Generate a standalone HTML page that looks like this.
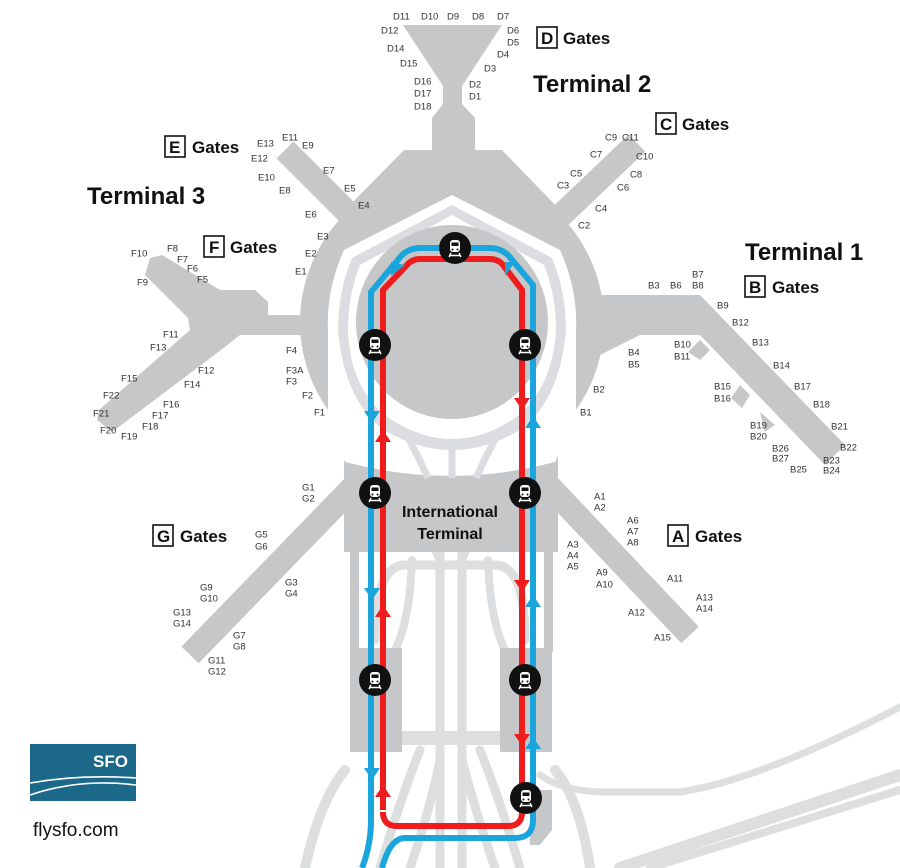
<!DOCTYPE html>
<html><head><meta charset="utf-8"><style>
html,body{margin:0;padding:0;background:#fff;}
svg{display:block;}
.g{font-family:"Liberation Sans",sans-serif;font-size:9.5px;fill:#333;}
.h{font-family:"Liberation Sans",sans-serif;font-weight:bold;fill:#111;}
</style></head><body>
<svg width="900" height="868" viewBox="0 0 900 868" xmlns="http://www.w3.org/2000/svg">
<defs>
<g id="st">
<circle r="16" fill="#111"/>
<rect x="-5" y="-8" width="10" height="12" rx="3" fill="#fff"/>
<rect x="-3.5" y="-5.5" width="7" height="3.5" fill="#111"/>
<circle cx="-2.5" cy="1.5" r="1" fill="#111"/><circle cx="2.5" cy="1.5" r="1" fill="#111"/>
<path d="M-4 5 L-6 9 M4 5 L6 9 M-5 7.5 H5" stroke="#fff" stroke-width="1.4" fill="none"/>
</g>
</defs>
<!-- light roads -->
<g fill="none" stroke="#dddee0" stroke-linecap="round">
<path d="M440 470 V868 M462 470 V868" stroke-width="9"/>
<path d="M405 470 Q420 520 440 560 M495 470 Q480 520 462 560" stroke-width="8"/>
<path d="M375 640 Q375 565 405 565 H495 Q525 565 525 640" stroke-width="9"/>
<path d="M395 650 Q410 620 412 560 M505 650 Q490 620 488 560" stroke-width="8"/>
<path d="M400 738 H500" stroke-width="14"/>
<path d="M420 750 Q400 800 380 868 M440 760 Q430 810 410 868 M462 760 Q475 810 495 868 M480 750 Q500 800 520 868" stroke-width="9"/>
<path d="M345 770 Q320 800 305 868 M555 770 Q580 800 590 868" stroke-width="10"/>
<path d="M540 775 Q560 790 600 792 L680 792 Q760 780 900 707" stroke-width="7"/>
<path d="M620 868 L900 775" stroke-width="12"/>
<path d="M650 868 L900 790" stroke-width="8"/>
</g>
<!-- main gray -->
<g fill="#c6c7c9">
<path d="M403 25 H502 L462 86 V104 L475 118 V150 H432 V118 L443 104 V86 Z"/>
<path d="M404 150 H502 L560 210 L545 240 H360 L345 210 Z"/>
<line x1="285" y1="150" x2="375" y2="240" stroke="#c6c7c9" stroke-width="24"/>
<line x1="637" y1="143" x2="530" y2="245" stroke="#c6c7c9" stroke-width="24"/>
<circle cx="452" cy="322" r="152"/>
<!-- F pier -->
<path d="M150 258 L162 255 L220 290 H255 L268 302 V315 H310 V335 L240 335 L225 347 L112 432 L97 420 L99 410 L190 330 L188 318 L145 275 Z"/>
<!-- B pier -->
<path d="M590 295 H700 L845 445 L825 465 L700 335 H640 L590 360 Z"/>
<path d="M700 340 L710 350 L700 360 L688 352 Z"/>
<path d="M740 385 L750 395 L742 408 L731 398 Z"/>
<path d="M760 412 L775 425 L765 432 Z"/>
<!-- G pier -->
<line x1="355" y1="485" x2="190" y2="655" stroke="#c6c7c9" stroke-width="24"/>
<!-- A pier -->
<line x1="548" y1="485" x2="690" y2="635" stroke="#c6c7c9" stroke-width="24"/>
<!-- intl -->
<rect x="344" y="440" width="214" height="112"/>
<rect x="350" y="552" width="9" height="100"/>
<rect x="544" y="552" width="9" height="100"/>
<rect x="350" y="648" width="52" height="104"/>
<rect x="500" y="648" width="52" height="104"/>
<path d="M530 790 H552 V830 L540 845 H530 Z"/>
</g>
<!-- inner white area of hub -->
<path d="M452 195 L560 250 Q578 290 576 330 L576 420 Q558 455 555 462 Q450 490 345 462 Q342 455 328 420 L328 330 Q326 290 344 250 Z" fill="#fff"/>
<path d="M452 205 L552 258 Q566 292 566 330 Q560 400 520 430 Q452 470 384 430 Q344 400 338 330 Q338 292 352 258 Z" fill="#dcdde0"/>
<path d="M452 215 L544 265 Q556 295 556 330 Q552 392 512 420 Q452 458 392 420 Q350 392 348 330 Q348 295 360 265 Z" fill="#fff"/>
<ellipse cx="452" cy="322" rx="96" ry="97" fill="#c6c7c9"/>
<path d="M345 462 Q450 490 555 462 V552 H345 Z" fill="#c6c7c9"/>
<g fill="none" stroke="#dcdde0" stroke-width="7">
<path d="M405 432 Q420 460 428 478 M499 432 Q484 460 476 478 M452 440 V478"/>
</g>
<!-- train lines -->
<g fill="none" stroke-linejoin="round" stroke-linecap="butt">
<path d="M362 868 Q371 845 371 820 V292 L402 255 Q410 248 420 248 H490 Q500 248 508 255 L533 285 V820 Q533 838 515 838 H405 Q390 838 382 868" stroke="#1aa6dc" stroke-width="6"/>
<path d="M383 810 V290 L407 265 Q412 259 420 259 H490 Q498 259 503 265 L522 290 V812 Q522 826 508 826 H397 Q383 826 383 812" stroke="#ee1c1c" stroke-width="6"/>
</g>
<!-- arrows -->
<g fill="#1aa6dc">
<path d="M364 411 H380 L372 423 Z"/><path d="M364 588 H380 L372 600 Z"/><path d="M364 768 H380 L372 780 Z"/>
<path d="M525 428 H541 L533 416 Z"/><path d="M525 607 H541 L533 595 Z"/><path d="M525 749 H541 L533 737 Z"/>
<path d="M391 276 L405 265 L391 262 Z"/><path d="M515 262 L505 276 L505 262 Z"/>
</g>
<g fill="#ee1c1c">
<path d="M375 442 H391 L383 430 Z"/><path d="M375 617 H391 L383 605 Z"/><path d="M375 797 H391 L383 785 Z"/>
<path d="M514 398 H530 L522 410 Z"/><path d="M514 580 H530 L522 592 Z"/><path d="M514 734 H530 L522 746 Z"/>
</g>
<!-- stations -->
<use href="#st" x="455" y="248"/><use href="#st" x="375" y="345"/><use href="#st" x="525" y="345"/>
<use href="#st" x="375" y="493"/><use href="#st" x="525" y="493"/><use href="#st" x="375" y="680"/>
<use href="#st" x="525" y="680"/><use href="#st" x="526" y="798"/>
<!-- headings -->
<g class="h">
<text x="533" y="92" font-size="24">Terminal 2</text>
<text x="745" y="260" font-size="24">Terminal 1</text>
<text x="87" y="204" font-size="24">Terminal 3</text>
<text x="450" y="517" font-size="16" text-anchor="middle">International</text>
<text x="450" y="539" font-size="16" text-anchor="middle">Terminal</text>
</g>
<g class="h" font-size="17">
<rect x="537" y="27" width="20" height="21" fill="none" stroke="#111" stroke-width="1.6"/><text x="541" y="44">D</text><text x="563" y="44">Gates</text>
<rect x="656" y="113" width="20" height="21" fill="none" stroke="#111" stroke-width="1.6"/><text x="660" y="130">C</text><text x="682" y="130">Gates</text>
<rect x="745" y="276" width="20" height="21" fill="none" stroke="#111" stroke-width="1.6"/><text x="749" y="293">B</text><text x="772" y="293">Gates</text>
<rect x="165" y="136" width="20" height="21" fill="none" stroke="#111" stroke-width="1.6"/><text x="169" y="153">E</text><text x="192" y="153">Gates</text>
<rect x="204" y="236" width="20" height="21" fill="none" stroke="#111" stroke-width="1.6"/><text x="209" y="253">F</text><text x="230" y="253">Gates</text>
<rect x="153" y="525" width="20" height="21" fill="none" stroke="#111" stroke-width="1.6"/><text x="157" y="542">G</text><text x="180" y="542">Gates</text>
<rect x="668" y="525" width="20" height="21" fill="none" stroke="#111" stroke-width="1.6"/><text x="672" y="542">A</text><text x="695" y="542">Gates</text>
</g>
<!-- gate labels -->
<g class="g" dominant-baseline="middle">
<text x="393" y="17">D11</text><text x="421" y="17">D10</text><text x="447" y="17">D9</text><text x="472" y="17">D8</text><text x="497" y="17">D7</text>
<text x="381" y="31">D12</text><text x="507" y="31">D6</text><text x="387" y="49">D14</text><text x="507" y="43">D5</text>
<text x="400" y="64">D15</text><text x="497" y="55">D4</text><text x="414" y="82">D16</text><text x="484" y="69">D3</text>
<text x="414" y="94">D17</text><text x="469" y="85">D2</text><text x="414" y="107">D18</text><text x="469" y="97">D1</text>
<text x="282" y="138">E11</text><text x="257" y="144">E13</text><text x="302" y="146">E9</text><text x="251" y="159">E12</text>
<text x="258" y="178">E10</text><text x="323" y="171">E7</text><text x="279" y="191">E8</text><text x="344" y="189">E5</text>
<text x="305" y="215">E6</text><text x="358" y="206">E4</text><text x="317" y="237">E3</text><text x="305" y="254">E2</text><text x="295" y="272">E1</text>
<text x="605" y="138">C9</text><text x="622" y="138">C11</text><text x="590" y="155">C7</text><text x="636" y="157">C10</text>
<text x="570" y="174">C5</text><text x="630" y="175">C8</text><text x="557" y="186">C3</text><text x="617" y="188">C6</text>
<text x="595" y="209">C4</text><text x="578" y="226">C2</text>
<text x="131" y="254">F10</text><text x="167" y="249">F8</text><text x="177" y="260">F7</text><text x="187" y="269">F6</text>
<text x="197" y="280">F5</text><text x="137" y="283">F9</text><text x="163" y="335">F11</text><text x="150" y="348">F13</text>
<text x="198" y="371">F12</text><text x="184" y="385">F14</text><text x="121" y="379">F15</text><text x="163" y="405">F16</text>
<text x="103" y="396">F22</text><text x="152" y="416">F17</text><text x="93" y="414">F21</text><text x="142" y="427">F18</text>
<text x="100" y="431">F20</text><text x="121" y="437">F19</text><text x="286" y="351">F4</text><text x="286" y="371">F3A</text>
<text x="286" y="382">F3</text><text x="302" y="396">F2</text><text x="314" y="413">F1</text>
<text x="648" y="286">B3</text><text x="670" y="286">B6</text><text x="692" y="275">B7</text><text x="692" y="286">B8</text>
<text x="717" y="306">B9</text><text x="732" y="323">B12</text><text x="752" y="343">B13</text><text x="773" y="366">B14</text>
<text x="794" y="387">B17</text><text x="813" y="405">B18</text><text x="831" y="427">B21</text><text x="840" y="448">B22</text>
<text x="823" y="461">B23</text><text x="823" y="471">B24</text><text x="790" y="470">B25</text><text x="772" y="449">B26</text>
<text x="772" y="459">B27</text><text x="750" y="426">B19</text><text x="750" y="437">B20</text><text x="714" y="387">B15</text>
<text x="714" y="399">B16</text><text x="674" y="345">B10</text><text x="674" y="357">B11</text><text x="628" y="353">B4</text>
<text x="628" y="365">B5</text><text x="593" y="390">B2</text><text x="580" y="413">B1</text>
<text x="302" y="488">G1</text><text x="302" y="499">G2</text><text x="255" y="535">G5</text><text x="255" y="547">G6</text>
<text x="200" y="588">G9</text><text x="200" y="599">G10</text><text x="285" y="583">G3</text><text x="285" y="594">G4</text>
<text x="173" y="613">G13</text><text x="173" y="624">G14</text><text x="233" y="636">G7</text><text x="233" y="647">G8</text>
<text x="208" y="661">G11</text><text x="208" y="672">G12</text>
<text x="594" y="497">A1</text><text x="594" y="508">A2</text><text x="627" y="521">A6</text><text x="627" y="532">A7</text>
<text x="627" y="543">A8</text><text x="567" y="545">A3</text><text x="567" y="556">A4</text><text x="567" y="567">A5</text>
<text x="596" y="573">A9</text><text x="596" y="585">A10</text><text x="667" y="579">A11</text><text x="696" y="598">A13</text>
<text x="696" y="609">A14</text><text x="628" y="613">A12</text><text x="654" y="638">A15</text>
</g>
<!-- SFO logo -->
<rect x="30" y="744" width="106" height="57" fill="#1b6888"/>
<text x="128" y="767" font-family="Liberation Sans,sans-serif" font-weight="bold" font-size="17" fill="#fff" text-anchor="end">SFO</text>
<path d="M30 783 Q80 774 136 778 M30 795 Q80 778 136 785" stroke="#fff" stroke-width="1.6" fill="none"/>
<text x="33" y="836" font-family="Liberation Sans,sans-serif" font-size="19" fill="#111">flysfo.com</text>
</svg>
</body></html>
